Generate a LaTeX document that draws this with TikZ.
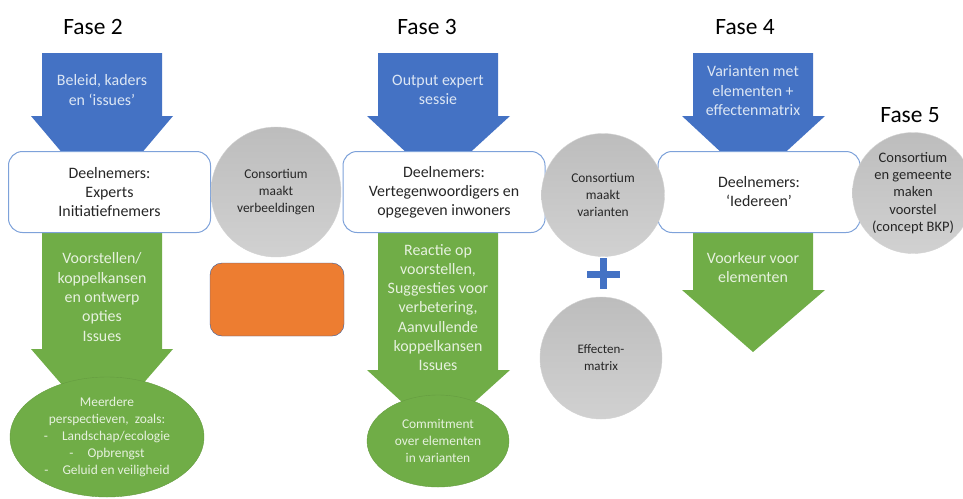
\documentclass[tikz,border=0pt]{standalone}
\usepackage{fontspec}
\setmainfont{Carlito}
\usetikzlibrary{shapes.geometric}
\definecolor{fblue}{HTML}{4472C4}
\definecolor{fgreen}{HTML}{70AD47}
\definecolor{forange}{HTML}{ED7D31}
\definecolor{boxline}{HTML}{7EA2DA}
\definecolor{txtdark}{HTML}{262626}
\definecolor{bluetxt}{HTML}{DCE6F4}
\definecolor{greentxt}{HTML}{E6F1DE}
\begin{document}
\begin{tikzpicture}[x=1pt,y=-1pt,
  fase/.style={font=\fontsize{23.4}{27}\selectfont},
  deeln/.style={draw=boxline,line width=1pt,fill=white,rounded corners=14pt,minimum width=202pt,minimum height=81pt,align=center,text=txtdark,font=\fontsize{15.9}{19}\selectfont},
  bluetext/.style={align=center,text=bluetxt,font=\fontsize{15.9}{19.5}\selectfont},
  greentext/.style={align=center,text=greentxt,font=\fontsize{15.9}{19.3}\selectfont},
  bol/.style={circle,draw=gray!35,top color=gray!52,bottom color=gray!36,inner sep=0pt,align=center,text=txtdark,font=\fontsize{13.4}{17}\selectfont},
  ovaal/.style={ellipse,fill=fgreen,draw=fgreen!90!black,inner sep=0pt,align=center,text=greentxt,font=\fontsize{13.4}{17}\selectfont}]
\useasboundingbox (0,0) rectangle (963,498);

\node[fase] (f2) at (93,27) {Fase 2};
\node[fase] (f3) at (427,27) {Fase 3};
\node[fase] (f4) at (745,27) {Fase 4};
\node[fase] (f5) at (910,115) {Fase 5};

\fill[fblue] (42,53) -- (162,53) -- (162,116) -- (173,116) -- (102,200) -- (31,116) -- (42,116) -- cycle;
\fill[fblue] (378,53) -- (498,53) -- (498,116) -- (510,116) -- (438,182) -- (367,116) -- (378,116) -- cycle;
\fill[fblue] (693,53) -- (813,53) -- (813,116) -- (825,116) -- (753,182) -- (682,116) -- (693,116) -- cycle;

\fill[fgreen] (42,225) -- (162,225) -- (162,349) -- (173,349) -- (102,431) -- (31,349) -- (42,349) -- cycle;
\fill[fgreen] (378,225) -- (498,225) -- (498,370) -- (510,370) -- (438,435) -- (367,370) -- (378,370) -- cycle;
\fill[fgreen] (693,225) -- (813,225) -- (813,290) -- (825,290) -- (753,352) -- (682,290) -- (693,290) -- cycle;

\node[bluetext] (in2) at (102,90) {Beleid, kaders\\en ‘issues’};
\node[bluetext] (in3) at (438,90) {Output expert\\sessie};
\node[bluetext] (in4) at (753,91) {Varianten met\\elementen +\\effectenmatrix};

\node[greentext] (uit2) at (102,297) {Voorstellen/\\koppelkansen\\en ontwerp\\opties\\Issues};
\node[greentext] (uit3) at (438,307.5) {Reactie op\\voorstellen,\\Suggesties voor\\verbetering,\\Aanvullende\\koppelkansen\\Issues};
\node[greentext] (uit4) at (753,267.5) {Voorkeur voor\\elementen};

\node[deeln] (d2) at (109.5,192) {Deelnemers:\\Experts\\Initiatiefnemers};
\node[deeln] (d3) at (444,192) {Deelnemers:\\Vertegenwoordigers en\\opgegeven inwoners};
\node[deeln] (d4) at (759,192) {Deelnemers:\\‘Iedereen’};

\node[bol,minimum size=130pt] (c1) at (276,192) {Consortium\\maakt\\verbeeldingen};
\node[bol,minimum size=123pt] (c2) at (603,195) {Consortium\\maakt\\varianten};
\node[bol,minimum size=122pt,font=\fontsize{13}{17}\selectfont] (c3) at (601,358) {Effecten-\\matrix};
\node[bol,minimum size=121pt,font=\fontsize{14.5}{17.2}\selectfont] (c4) at (913,193) {Consortium\\en gemeente\\maken\\voorstel\\(concept BKP)};

\fill[fblue] (587,270.5) rectangle (620,277.5);
\fill[fblue] (600,258) rectangle (607,289);

\draw[fill=forange,draw=fblue!80!black,rounded corners=12pt] (210,263) rectangle (344,336);

\node[ovaal,minimum width=194pt,minimum height=120pt] (o2) at (107,437) {Meerdere\\perspectieven,\ \ zoals:\\-\hspace{14pt}Landschap/ecologie\\-\hspace{14pt}Opbrengst\\-\hspace{14pt}Geluid en veiligheid};
\node[ovaal,minimum width=142pt,minimum height=92pt] (o3) at (438,441) {Commitment\\over elementen\\in varianten};
\end{tikzpicture}
\end{document}
